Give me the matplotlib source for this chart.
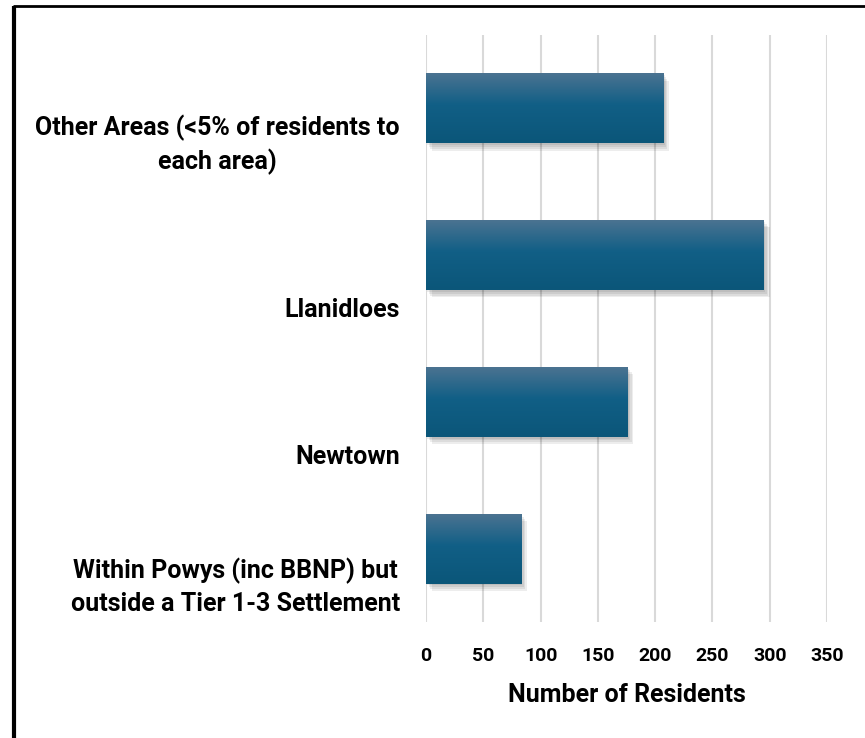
import numpy as np
import matplotlib.pyplot as plt
import matplotlib.transforms as mtransforms
import matplotlib.patheffects as pe
from matplotlib.colors import LinearSegmentedColormap
from matplotlib.lines import Line2D

plt.rcParams["font.family"] = ["Roboto", "DejaVu Sans"]
plt.rcParams["font.weight"] = "bold"

# -- data (top to bottom as shown) ------------------------------------------
areas = [
    "Other Areas (<5% of residents to\neach area)",
    "Llanidloes",
    "Newtown",
    "Within Powys (inc BBNP) but\noutside a Tier 1-3 Settlement",
]
residents = [207, 295, 176, 83]
x_ticks = [0, 50, 100, 150, 200, 250, 300, 350]

BAR_TOP = "#4b7391"
BAR_MID = "#115f86"
BAR_BOT = "#0b5679"
GRID = "#d9d9d9"

fig = plt.figure(figsize=(8.65, 7.38), dpi=100)
ax = fig.add_axes([426 / 865, 1 - 622 / 738, 401 / 865, 587 / 738])

ypos = np.arange(len(areas))[::-1]  # first category on top
bars = ax.barh(ypos, residents, height=0.477, color=BAR_MID, zorder=3)

# soft drop shadow under every bar
shadow = [pe.SimplePatchShadow(offset=(o, -o * 1.3), shadow_rgbFace="black", alpha=0.07)
          for o in (4, 3, 2, 1)]
for b in bars:
    b.set_path_effects(shadow + [pe.Normal()])

# vertical gradient fill, clipped to each bar
cmap = LinearSegmentedColormap.from_list(
    "bar", [(0.0, BAR_TOP), (0.45, BAR_MID), (1.0, BAR_BOT)])
grad = np.linspace(0, 1, 256).reshape(-1, 1)
for b in bars:
    x0, y0 = b.get_x(), b.get_y()
    w, h = b.get_width(), b.get_height()
    im = ax.imshow(grad, cmap=cmap, aspect="auto", origin="upper",
                   extent=(x0, x0 + w, y0, y0 + h), zorder=4, interpolation="bilinear")
    im.set_clip_path(b)

ax.set_xlim(0, 350)
ax.set_ylim(-0.5, len(areas) - 0.5)
ax.set_xticks(x_ticks)
ax.set_xticklabels([str(t) for t in x_ticks], fontsize=14, fontweight="bold")
ax.tick_params(axis="x", length=0, pad=18)
ax.set_yticks([])
ax.grid(axis="x", color=GRID, linewidth=1.5, zorder=0)
ax.set_axisbelow(True)
for s in ax.spines.values():
    s.set_visible(False)

# category labels sit below their bars, right aligned next to the axis
lab_tr = mtransforms.offset_copy(ax.get_yaxis_transform(), fig=fig, x=-26, y=-67, units="dots")
for y, name in zip(ypos, areas):
    ax.text(0, y, name, transform=lab_tr, ha="right", va="bottom",
            multialignment="center", fontsize=18, fontweight="bold",
            linespacing=1.38)

ax.set_xlabel("Number of Residents", fontsize=18, fontweight="bold", labelpad=13)

# black frame around the chart
fig.add_artist(Line2D([14 / 865, 14 / 865], [0, 1 - 6 / 738], color="black",
                      linewidth=3, transform=fig.transFigure, solid_capstyle="butt"))
fig.add_artist(Line2D([12.5 / 865, 1], [1 - 6 / 738, 1 - 6 / 738], color="black",
                      linewidth=2, transform=fig.transFigure, solid_capstyle="butt"))

fig.savefig("out.png", dpi=100)
